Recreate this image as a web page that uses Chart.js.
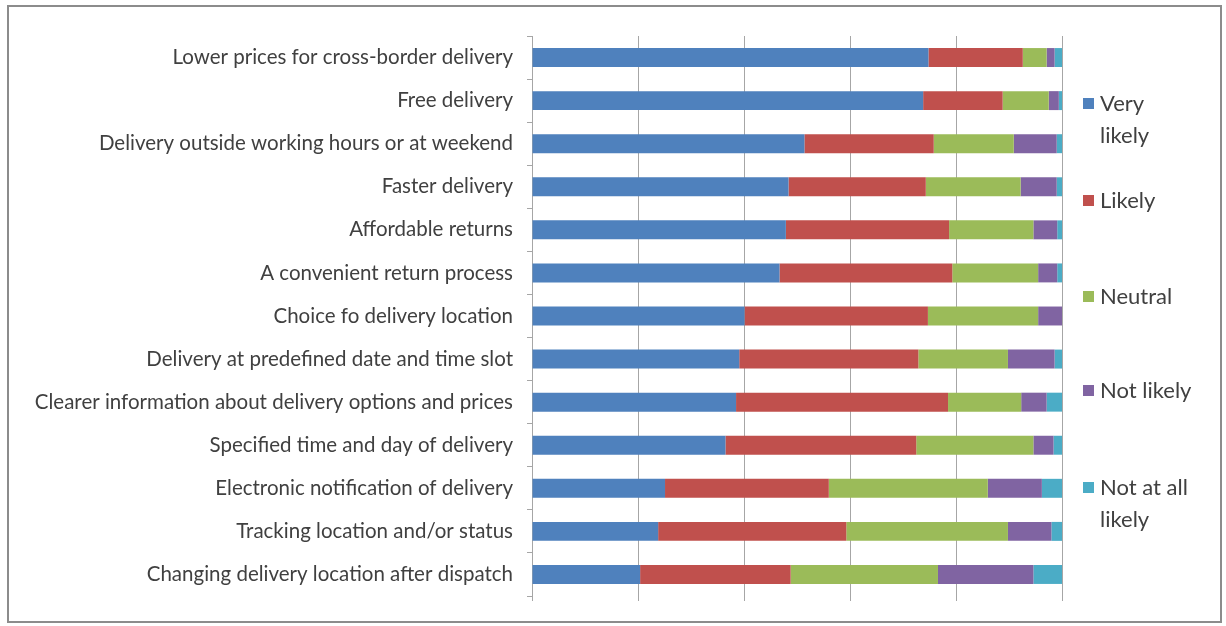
<!DOCTYPE html>
<html>
<head>
<meta charset="utf-8">
<script src="https://cdn.jsdelivr.net/npm/chart.js@4.4.1/dist/chart.umd.min.js"></script>
<style>
  html, body { margin: 0; padding: 0; background: #fff; }
  #wrap { position: relative; width: 1226px; height: 626px; overflow: hidden; }
  #frame { position: absolute; left: 7px; top: 5px; width: 1211px; height: 614px; border: 2px solid #8c8c8c; box-sizing: content-box; pointer-events: none; }
  canvas { position: absolute; left: 0; top: 0; }
  #legend { position: absolute; left: 1083px; top: 0; font-family: Lato, "Open Sans", sans-serif; font-size: 22px; color: #404040; }
  .item { position: absolute; left: 0; width: 135px; line-height: 32px; padding-left: 17px; }
  .sw { position: absolute; left: 0; top: 11px; width: 11px; height: 11px; }
</style>
</head>
<body>
<div id="wrap">
  <canvas id="c" width="1226" height="626"></canvas>
  <div id="frame"></div>
  <div id="legend"></div>
</div>
<script>
const categories = [
  "Lower prices for cross-border delivery",
  "Free delivery",
  "Delivery outside working hours or at weekend",
  "Faster delivery",
  "Affordable returns",
  "A convenient return process",
  "Choice fo delivery location",
  "Delivery at predefined date and time slot",
  "Clearer information about delivery options and prices",
  "Specified time and day of delivery",
  "Electronic notification of delivery",
  "Tracking location and/or status",
  "Changing delivery location after dispatch"
];
const seriesNames = ["Very likely", "Likely", "Neutral", "Not likely", "Not at all likely"];
const veryLikely   = [74.8, 73.8, 51.4, 48.4, 47.9, 46.7, 40.1, 39.1, 38.5, 36.5, 25.1, 23.8, 20.4];
const likely       = [17.8, 15.0, 24.4, 25.9, 30.8, 32.6, 34.6, 33.8, 40.0, 36.0, 30.9, 35.5, 28.4];
const neutral      = [4.5, 8.7, 15.1, 17.9, 15.9, 16.2, 20.8, 16.9, 13.8, 22.1, 30.0, 30.5, 27.8];
const notLikely    = [1.5, 1.9, 8.1, 6.8, 4.5, 3.6, 4.5, 8.8, 4.8, 3.8, 10.2, 8.2, 18.0];
const notAtAll     = [1.4, 0.6, 1.0, 1.0, 0.9, 0.9, 0.0, 1.4, 2.9, 1.6, 3.8, 2.0, 5.4];
const xTicks = [0, 20, 40, 60, 80, 100];

const colors = ["#4F81BD", "#C0504D", "#9BBB59", "#8064A2", "#4BACC6"];
const values = [veryLikely, likely, neutral, notLikely, notAtAll];

const datasets = seriesNames.map((name, i) => ({
  label: name,
  data: values[i],
  backgroundColor: colors[i],
  borderWidth: 0,
  barPercentage: 0.44,
  categoryPercentage: 1.0
}));

// HTML legend (wrapped labels like the original)
const legendLines = [["Very", "likely"], ["Likely"], ["Neutral"], ["Not likely"], ["Not at all", "likely"]];
const legendTops = [87, 184, 280, 374, 471];
const legendEl = document.getElementById('legend');
seriesNames.forEach((name, i) => {
  const d = document.createElement('div');
  d.className = 'item';
  d.style.top = legendTops[i] + 'px';
  const sw = document.createElement('span');
  sw.className = 'sw';
  sw.style.background = colors[i];
  d.appendChild(sw);
  legendLines[i].forEach((ln, k) => {
    if (k) d.appendChild(document.createElement('br'));
    d.appendChild(document.createTextNode(ln));
  });
  legendEl.appendChild(d);
});

new Chart(document.getElementById('c'), {
  type: 'bar',
  data: { labels: categories, datasets: datasets },
  options: {
    indexAxis: 'y',
    responsive: false,
    animation: false,
    layout: { padding: { left: 0, right: 164, top: 36, bottom: 0 } },
    plugins: { legend: { display: false }, tooltip: { enabled: false } },
    scales: {
      x: {
        stacked: true,
        min: 0, max: 100,
        afterBuildTicks: (s) => { s.ticks = xTicks.map(v => ({ value: v })); },
        ticks: { display: false },
        grid: { color: '#a6a6a6', lineWidth: 1, drawTicks: true, tickLength: 5, tickColor: '#a6a6a6' },
        border: { display: false },
        afterFit: (s) => { s.height = 30; }
      },
      y: {
        stacked: true,
        ticks: { color: '#404040', font: { family: 'Lato', size: 20.5 }, padding: 14, autoSkip: false },
        grid: { drawOnChartArea: false, drawTicks: true, tickLength: 5, tickColor: '#a6a6a6', offset: true },
        border: { display: true, color: '#a6a6a6', width: 1 },
        afterFit: (s) => { s.width = 532; }
      }
    }
  }
});
</script>
</body>
</html>
